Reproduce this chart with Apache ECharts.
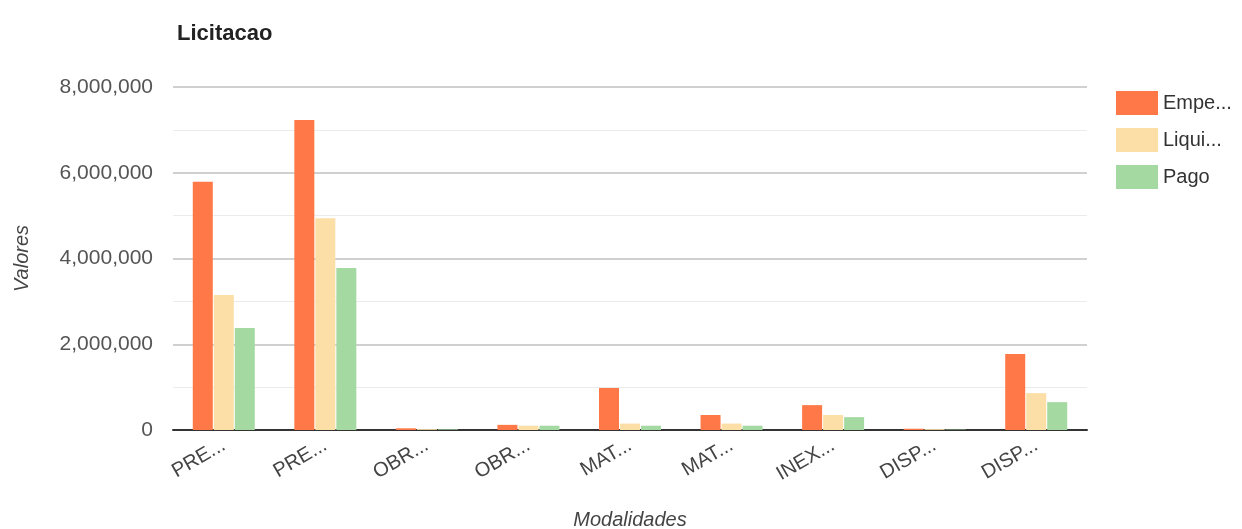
<!DOCTYPE html>
<html>
<head>
<meta charset="utf-8">
<script src="https://cdn.jsdelivr.net/npm/echarts@6/dist/echarts.min.js"></script>
<style>html,body{margin:0;padding:0;background:#fff;}#c{width:1242px;height:529px;}</style>
</head>
<body>
<div id="c"></div>
<script>
const categories = ['PRE...', 'PRE...', 'OBR...', 'OBR...', 'MAT...', 'MAT...', 'INEX...', 'DISP...', 'DISP...'];
const seriesNames = ['Empenhado', 'Liquidado', 'Pago'];
const legendLabels = ['Empe...', 'Liqui...', 'Pago'];
const empenhado = [5790000, 7230000, 40000, 120000, 980000, 350000, 580000, 30000, 1770000];
const liquidado = [3150000, 4940000, 20000, 100000, 150000, 150000, 350000, 20000, 860000];
const pago = [2380000, 3780000, 15000, 100000, 100000, 100000, 300000, 10000, 650000];
const yTicks = { min: 0, max: 8000000, interval: 2000000 };
const colors = ['#FF7847', '#FCDFA6', '#A5D9A2'];

const chart = echarts.init(document.getElementById('c'));
const font = 'Liberation Sans, Arial, sans-serif';
chart.setOption({
  animation: false,
  color: colors,
  textStyle: { fontFamily: font },
  title: {
    text: 'Licitacao', left: 172, top: 18,
    textStyle: { fontSize: 22, fontWeight: 'bold', color: '#222', fontFamily: font }
  },
  legend: {
    orient: 'vertical', left: 1111, top: 86,
    itemWidth: 42, itemHeight: 24, itemGap: 13,
    icon: 'rect',
    data: seriesNames,
    formatter: name => legendLabels[seriesNames.indexOf(name)],
    textStyle: { fontSize: 20, color: '#333' }
  },
  grid: { left: 173, right: 155, top: 87, bottom: 99, outerBoundsMode: 'none', containLabel: false },
  xAxis: {
    type: 'category', data: categories,
    name: 'Modalidades', nameLocation: 'middle', nameGap: 80,
    nameTextStyle: { fontSize: 20, fontStyle: 'italic', color: '#444' },
    axisLine: { lineStyle: { color: '#333', width: 2 } },
    axisTick: { show: false },
    axisLabel: { rotate: 30, fontSize: 20, color: '#444', margin: 14, interval: 0 }
  },
  yAxis: {
    type: 'value', min: yTicks.min, max: yTicks.max, interval: yTicks.interval,
    name: 'Valores', nameLocation: 'middle', nameGap: 141,
    nameTextStyle: { fontSize: 20, fontStyle: 'italic', color: '#444' },
    axisLine: { show: false }, axisTick: { show: false },
    axisLabel: { fontSize: 21, color: '#555', margin: 20,
      formatter: v => v.toLocaleString('en-US') },
    splitLine: { lineStyle: { color: '#d0d0d0', width: 2 } },
    minorTick: { show: false, splitNumber: 2 },
    minorSplitLine: { show: true, lineStyle: { color: '#ebebeb', width: 1 } }
  },
  series: [
    { name: seriesNames[0], type: 'bar', data: empenhado, barWidth: 20, barGap: '5%' },
    { name: seriesNames[1], type: 'bar', data: liquidado, barWidth: 20, barGap: '5%' },
    { name: seriesNames[2], type: 'bar', data: pago, barWidth: 20, barGap: '5%' }
  ]
});
</script>
</body>
</html>
